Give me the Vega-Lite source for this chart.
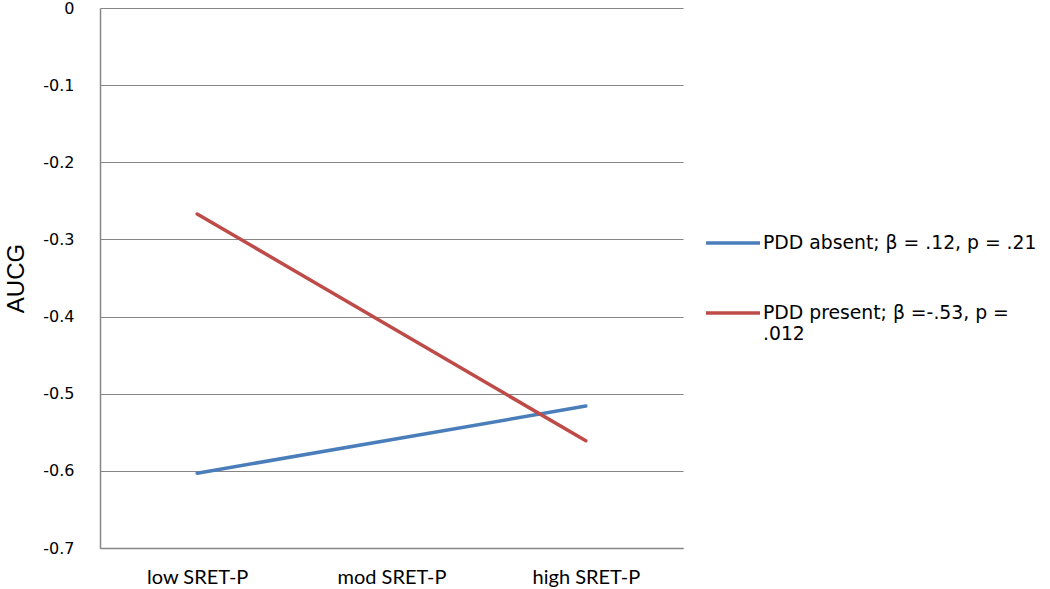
{
  "$schema": "https://vega.github.io/schema/vega-lite/v6.json",
  "width": 583,
  "height": 540,
  "autosize": {"type": "none"},
  "padding": {"left": 100, "top": 8, "right": 367, "bottom": 41},
  "background": "white",
  "config": {
    "font": "Lato",
    "view": {"stroke": null}
  },
  "data": {
    "values": [
      {"level": "low SRET-P", "group": "PDD absent; β = .12, p = .21", "auc": -0.603},
      {"level": "high SRET-P", "group": "PDD absent; β = .12, p = .21", "auc": -0.516},
      {"level": "low SRET-P", "group": "PDD present; β =-.53, p = .012", "auc": -0.267},
      {"level": "high SRET-P", "group": "PDD present; β =-.53, p = .012", "auc": -0.561}
    ]
  },
  "mark": {"type": "line", "strokeWidth": 3.5, "strokeCap": "round"},
  "encoding": {
    "x": {
      "field": "level",
      "type": "ordinal",
      "scale": {"type": "point", "domain": ["low SRET-P", "mod SRET-P", "high SRET-P"], "padding": 0.5},
      "axis": {
        "title": null,
        "labelAngle": 0,
        "ticks": false,
        "grid": false,
        "domainColor": "#868686",
        "domainWidth": 1.5,
        "labelFont": "Lato",
        "labelFontSize": 20,
        "labelColor": "#000000",
        "labelPadding": 19
      }
    },
    "y": {
      "field": "auc",
      "type": "quantitative",
      "scale": {"domain": [-0.7, 0], "nice": false, "zero": false},
      "axis": {
        "values": [-0.7, -0.6, -0.5, -0.4, -0.3, -0.2, -0.1, 0],
        "labelExpr": "replace(datum.value == 0 ? '0' : format(datum.value, '.1f'), '\u2212', '-')",
        "grid": true,
        "gridColor": "#868686",
        "gridWidth": 1.2,
        "ticks": false,
        "domainColor": "#868686",
        "domainWidth": 1.5,
        "labelFont": "DejaVu Sans",
        "labelFontSize": 16,
        "labelColor": "#000000",
        "labelPadding": 26,
        "title": "AUCG",
        "titleFont": "Liberation Sans",
        "titleFontSize": 24,
        "titleFontWeight": "normal",
        "titleColor": "#000000",
        "titlePadding": 14
      }
    },
    "color": {
      "field": "group",
      "type": "nominal",
      "scale": {
        "domain": ["PDD absent; β = .12, p = .21", "PDD present; β =-.53, p = .012"],
        "range": ["#4a7ebb", "#be4b48"]
      },
      "legend": {
        "title": null,
        "orient": "none",
        "legendX": 604,
        "legendY": 206,
        "symbolType": "stroke",
        "symbolSize": 2916,
        "symbolStrokeWidth": 3.5,
        "labelFont": "DejaVu Sans",
        "labelFontSize": 18.8,
        "labelColor": "#000000",
        "labelLimit": 400,
        "labelOffset": 1,
        "rowPadding": 31,
        "labelExpr": "datum.label == 'PDD present; β =-.53, p = .012' ? ['PDD present; β =-.53, p =', '.012'] : datum.label"
      }
    }
  }
}
